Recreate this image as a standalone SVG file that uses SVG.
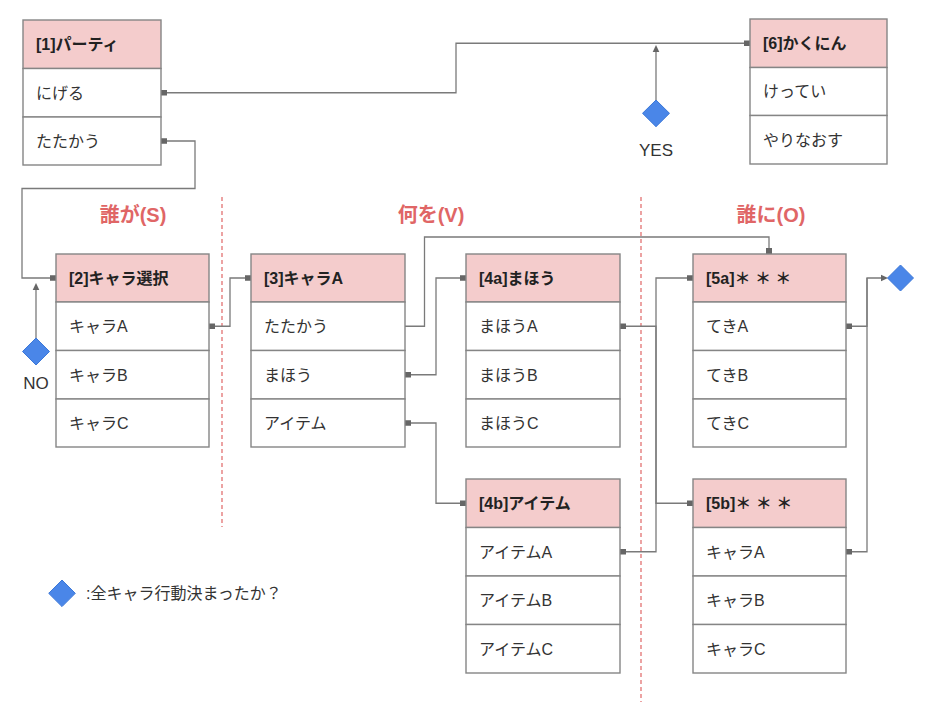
<svg xmlns="http://www.w3.org/2000/svg" width="938" height="702" viewBox="0 0 938 702">
<style>
.hd{fill:#f4cccc;stroke:#858585;stroke-width:1.4}
.rw{fill:#ffffff;stroke:#858585;stroke-width:1.4}
.ht{font-family:"Liberation Sans","Noto Sans CJK JP",sans-serif;font-size:16px;font-weight:bold;fill:#222}
.rt{font-family:"Liberation Sans","Noto Sans CJK JP",sans-serif;font-size:16px;fill:#333}
.sec{font-family:"Liberation Sans","Noto Sans CJK JP",sans-serif;font-size:20px;font-weight:bold;fill:#e06666;text-anchor:middle}
.lbl{font-family:"Liberation Sans","Noto Sans CJK JP",sans-serif;font-size:17px;fill:#333;text-anchor:middle}
.ln{fill:none;stroke:#7a7a7a;stroke-width:1.3}
.mk{fill:#666}
.dsh{stroke:#e06666;stroke-width:1.2;stroke-dasharray:4 3;fill:none}
.dia{fill:#4a86e8;stroke:#3c78d8;stroke-width:1}
</style>
<rect width="938" height="702" fill="#ffffff"/>

<g id="dividers">
<line class="dsh" x1="222" y1="197" x2="222" y2="527"/>
<line class="dsh" x1="641" y1="197" x2="641" y2="702"/>
</g>

<g id="section-labels">
<text class="sec" x="133" y="222">誰が(S)</text>
<text class="sec" x="431" y="222">何を(V)</text>
<text class="sec" x="771" y="222">誰に(O)</text>
</g>

<g id="connectors">
<path class="ln" d="M167,92.75 H456 V43.25 H744"/>
<rect class="mk" x="161" y="90" width="6" height="5.5"/>
<rect class="mk" x="744" y="40.5" width="6" height="5.5"/>
<path class="ln" d="M656,100 V51"/>
<polygon class="mk" points="656,45 652.7,52 659.3,52"/>

<path class="ln" d="M167,141 H195 V188.5 H22 V278 H50"/>
<rect class="mk" x="161" y="138.25" width="6" height="5.5"/>
<rect class="mk" x="50" y="275.25" width="6" height="5.5"/>
<path class="ln" d="M36,338 V289"/>
<polygon class="mk" points="36,283 32.7,290 39.3,290"/>

<path class="ln" d="M215,326.25 H230 V278 H245"/>
<rect class="mk" x="209" y="323.5" width="6" height="5.5"/>
<rect class="mk" x="245" y="275.25" width="6" height="5.5"/>

<path class="ln" d="M405,326.25 H424.5 V237 H769 V248"/>
<rect class="mk" x="766" y="248" width="6" height="6"/>

<path class="ln" d="M411,374.75 H436 V278 H460"/>
<rect class="mk" x="405" y="372" width="6" height="5.5"/>
<rect class="mk" x="460" y="275.25" width="6" height="5.5"/>

<path class="ln" d="M411,423 H436 V503.25 H460"/>
<rect class="mk" x="405" y="420.25" width="6" height="5.5"/>
<rect class="mk" x="460" y="500.5" width="6" height="5.5"/>

<path class="ln" d="M626,326.25 H656 V503.25 H687"/>
<path class="ln" d="M626,551.75 H656 V278 H687"/>
<rect class="mk" x="620" y="323.5" width="6" height="5.5"/>
<rect class="mk" x="620" y="549" width="6" height="5.5"/>
<rect class="mk" x="687" y="275.25" width="6" height="5.5"/>
<rect class="mk" x="687" y="500.5" width="6" height="5.5"/>

<path class="ln" d="M852,326.25 H867 V278 H882"/>
<path class="ln" d="M852,551.75 H867 V278"/>
<rect class="mk" x="846" y="323.5" width="6" height="5.5"/>
<rect class="mk" x="846" y="549" width="6" height="5.5"/>
<polygon class="mk" points="888,278 881,274.7 881,281.3"/>
</g>

<g id="node1">
<rect class="hd" x="23" y="20" width="138" height="48.5"/>
<rect class="rw" x="23" y="68.5" width="138" height="48.5"/>
<rect class="rw" x="23" y="117" width="138" height="48"/>
<text class="ht" x="36" y="50">[1]パーティ</text>
<text class="rt" x="36" y="98.5">にげる</text>
<text class="rt" x="36" y="146.5">たたかう</text>
</g>

<g id="node6">
<rect class="hd" x="750" y="19" width="137" height="48.5"/>
<rect class="rw" x="750" y="67.5" width="137" height="48"/>
<rect class="rw" x="750" y="115.5" width="137" height="48.5"/>
<text class="ht" x="763" y="49">[6]かくにん</text>
<text class="rt" x="763" y="97.3">けってい</text>
<text class="rt" x="763" y="145.5">やりなおす</text>
</g>

<g id="node2">
<rect class="hd" x="56" y="254" width="153" height="48"/>
<rect class="rw" x="56" y="302" width="153" height="48.5"/>
<rect class="rw" x="56" y="350.5" width="153" height="48.5"/>
<rect class="rw" x="56" y="399" width="153" height="48"/>
<text class="ht" x="69" y="283.8">[2]キャラ選択</text>
<text class="rt" x="69" y="332">キャラA</text>
<text class="rt" x="69" y="380.5">キャラB</text>
<text class="rt" x="69" y="428.8">キャラC</text>
</g>

<g id="node3">
<rect class="hd" x="251" y="254" width="154" height="48"/>
<rect class="rw" x="251" y="302" width="154" height="48.5"/>
<rect class="rw" x="251" y="350.5" width="154" height="48.5"/>
<rect class="rw" x="251" y="399" width="154" height="48"/>
<text class="ht" x="264" y="283.8">[3]キャラA</text>
<text class="rt" x="264" y="332">たたかう</text>
<text class="rt" x="264" y="380.5">まほう</text>
<text class="rt" x="264" y="428.8">アイテム</text>
</g>

<g id="node4a">
<rect class="hd" x="466" y="254" width="154" height="48"/>
<rect class="rw" x="466" y="302" width="154" height="48.5"/>
<rect class="rw" x="466" y="350.5" width="154" height="48.5"/>
<rect class="rw" x="466" y="399" width="154" height="48"/>
<text class="ht" x="479" y="283.8">[4a]まほう</text>
<text class="rt" x="479" y="332">まほうA</text>
<text class="rt" x="479" y="380.5">まほうB</text>
<text class="rt" x="479" y="428.8">まほうC</text>
</g>

<g id="node5a">
<rect class="hd" x="693" y="254" width="153" height="48"/>
<rect class="rw" x="693" y="302" width="153" height="48.5"/>
<rect class="rw" x="693" y="350.5" width="153" height="48.5"/>
<rect class="rw" x="693" y="399" width="153" height="48"/>
<text class="ht" x="706" y="283.8" xml:space="preserve">[5a]＊ ＊ ＊</text>
<text class="rt" x="706" y="332">てきA</text>
<text class="rt" x="706" y="380.5">てきB</text>
<text class="rt" x="706" y="428.8">てきC</text>
</g>

<g id="node4b">
<rect class="hd" x="466" y="479" width="154" height="48.5"/>
<rect class="rw" x="466" y="527.5" width="154" height="48.5"/>
<rect class="rw" x="466" y="576" width="154" height="48.5"/>
<rect class="rw" x="466" y="624.5" width="154" height="48.5"/>
<text class="ht" x="479" y="509">[4b]アイテム</text>
<text class="rt" x="479" y="557.5">アイテムA</text>
<text class="rt" x="479" y="606">アイテムB</text>
<text class="rt" x="479" y="654.5">アイテムC</text>
</g>

<g id="node5b">
<rect class="hd" x="693" y="479" width="153" height="48.5"/>
<rect class="rw" x="693" y="527.5" width="153" height="48.5"/>
<rect class="rw" x="693" y="576" width="153" height="48.5"/>
<rect class="rw" x="693" y="624.5" width="153" height="48.5"/>
<text class="ht" x="706" y="509" xml:space="preserve">[5b]＊ ＊ ＊</text>
<text class="rt" x="706" y="557.5">キャラA</text>
<text class="rt" x="706" y="606">キャラB</text>
<text class="rt" x="706" y="654.5">キャラC</text>
</g>

<g id="decision-yes">
<polygon class="dia" points="656,100 669.5,113.3 656,126.7 642.5,113.3"/>
<text class="lbl" x="656" y="156">YES</text>
</g>

<g id="decision-no">
<polygon class="dia" points="36,338 49.5,351.5 36,365 22.5,351.5"/>
<text class="lbl" x="36" y="388.5">NO</text>
</g>

<g id="decision-end">
<polygon class="dia" points="900.5,265 913.5,278 900.5,291 887.5,278"/>
</g>

<g id="legend">
<polygon class="dia" points="62,580 75.3,593.3 62,606.6 48.7,593.3"/>
<text class="rt" x="86" y="599">:全キャラ行動決まったか？</text>
</g>
</svg>
